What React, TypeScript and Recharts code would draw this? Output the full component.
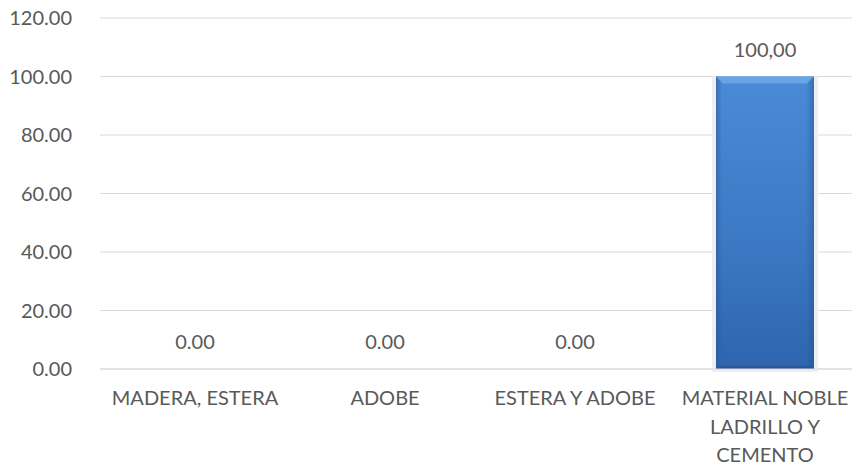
import React from "react";
import { ComposedChart, Bar, Scatter, XAxis, YAxis, CartesianGrid } from "recharts";

const categories = ["MADERA, ESTERA", "ADOBE", "ESTERA Y ADOBE", "MATERIAL NOBLE\nLADRILLO Y\nCEMENTO"];
const values = [0, 0, 0, 100];
const valueLabels = ["0.00", "0.00", "0.00", "100,00"];
const yTicks = [0, 20, 40, 60, 80, 100, 120];

const data = categories.map((c, i) => ({ name: c, value: values[i], label: valueLabels[i] }));

const FONT = "Lato, 'Liberation Sans', sans-serif";
const TXT = "#595959";

const XTick = (props: any) => {
  const { x, y, payload } = props;
  const lines = String(payload.value).split("\n");
  return (
    <text x={x} y={y} textAnchor="middle" fill={TXT} fontFamily={FONT} fontSize={20}>
      {lines.map((l, i) => (
        <tspan key={i} x={x} dy={i === 0 ? 28 : 28.5}>{l}</tspan>
      ))}
    </text>
  );
};

const BevelBar = (props: any) => {
  const { x, y, width, height } = props;
  if (!height || height <= 0) return null;
  const b = 7;
  return (
    <g>
      <rect x={x - 4} y={y} width={width + 8} height={height + 3} fill="#efefef" />
      <rect x={x} y={y} width={width} height={height} fill="url(#barGrad)" />
      <rect x={x} y={y} width={width} height={height} fill="url(#sideGrad)" />
      <polygon points={`${x},${y} ${x + width},${y} ${x + width - b},${y + b} ${x + b},${y + b}`} fill="#6ea9e6" opacity={0.85} />
      <polygon points={`${x},${y + height} ${x + width},${y + height} ${x + width - 3},${y + height - 3} ${x + 3},${y + height - 3}`} fill="#24508c" opacity={0.6} />
    </g>
  );
};

const ValueLabel = (props: any) => {
  const { cx, cy, payload } = props;
  return (
    <text x={cx} y={cy - 25} textAnchor="middle" dominantBaseline="middle" fill={TXT} fontFamily={FONT} fontSize={20}>
      {payload.label}
    </text>
  );
};

export default function App() {
  return (
    <div style={{ position: "absolute", left: 0, top: 0, width: 852, height: 470, overflow: "hidden", background: "#fff" }}>
      <ComposedChart width={860} height={470} data={data} margin={{ top: 18, right: 0, bottom: 0, left: 0 }}>
        <defs>
          <linearGradient id="barGrad" x1="0" y1="0" x2="0" y2="1">
            <stop offset="0%" stopColor="#4a8ad6" />
            <stop offset="50%" stopColor="#3e7bc7" />
            <stop offset="100%" stopColor="#2e65ad" />
          </linearGradient>
          <linearGradient id="sideGrad" x1="0" y1="0" x2="1" y2="0">
            <stop offset="0%" stopColor="#1f4f8f" stopOpacity={0.45} />
            <stop offset="6%" stopColor="#1f4f8f" stopOpacity={0} />
            <stop offset="92%" stopColor="#1f4f8f" stopOpacity={0} />
            <stop offset="100%" stopColor="#1f4f8f" stopOpacity={0.45} />
          </linearGradient>
        </defs>
        <CartesianGrid vertical={false} stroke="#d9d9d9" />
        <XAxis dataKey="name" height={101} tickLine={false} axisLine={{ stroke: "#d9d9d9" }} tick={<XTick />} interval={0} />
        <YAxis width={100} domain={[0, 120]} ticks={yTicks} axisLine={false} tickLine={false} tickMargin={22}
          tickFormatter={(v: number) => v.toFixed(2)}
          tick={{ fill: TXT, fontFamily: FONT, fontSize: 20 }} />
        <Bar dataKey="value" barSize={98} isAnimationActive={false} shape={<BevelBar />} />
        <Scatter dataKey="value" isAnimationActive={false} shape={<ValueLabel />} />
      </ComposedChart>
    </div>
  );
}
